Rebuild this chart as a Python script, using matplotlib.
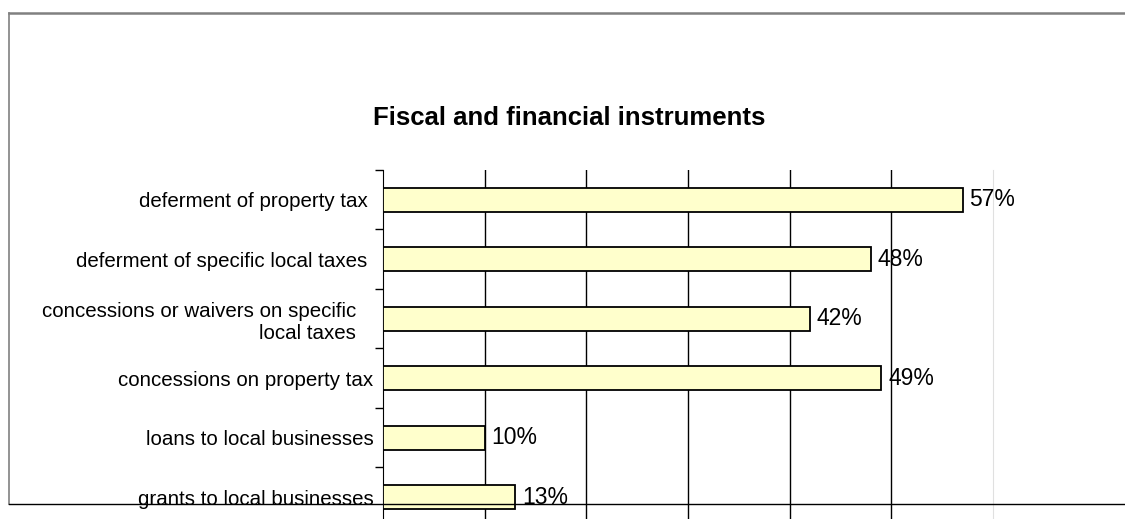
import numpy as np
import matplotlib
matplotlib.use("Agg")
import matplotlib.pyplot as plt
from matplotlib.lines import Line2D

plt.rcParams['font.family'] = ['Liberation Sans', 'DejaVu Sans']

# data, top to bottom
categories = [
    "deferment of property tax ",
    "deferment of specific local taxes ",
    "concessions or waivers on specific   \nlocal taxes   ",
    "concessions on property tax",
    "loans to local businesses",
    "grants to local businesses",
]
values = [0.57, 0.48, 0.42, 0.49, 0.10, 0.13]
value_labels = ["57%", "48%", "42%", "49%", "10%", "13%"]
title = "Fiscal and financial instruments"

W, H = 1125, 519
fig = plt.figure(figsize=(W / 100, H / 100), dpi=100)

# chart area frame (cropped on the right)
fig.add_artist(Line2D([9 / W, 1.0], [1 - 13 / H, 1 - 13 / H], color='#808080', lw=1.8))
fig.add_artist(Line2D([9 / W, 9 / W], [1 - 13 / H, 1 - 504 / H], color='#808080', lw=1.2))
fig.add_artist(Line2D([9 / W, 1.0], [1 - 504 / H, 1 - 504 / H], color='black', lw=1.0, zorder=10))

left, right, top, bottom = 383, 993, 170, 527
ax = fig.add_axes([left / W, 1 - bottom / H, (right - left) / W, (bottom - top) / H])

y = np.arange(len(categories))
ax.barh(y, values, height=0.41, color='#FFFFCC', edgecolor='black', linewidth=1.3, zorder=3)

for yi, v, lab in zip(y, values, value_labels):
    ax.annotate(lab, (v, yi), xytext=(5, 0), textcoords='offset points',
                ha='left', va='center', fontsize=16.5, color='black', zorder=4)

ax.set_xlim(0, 0.6)
ax.set_ylim(len(categories) - 0.5, -0.5)

# x gridlines
ax.set_xticks([0.1, 0.2, 0.3, 0.4, 0.5])
ax.grid(axis='x', color='black', lw=1.0)
ax.tick_params(axis='x', length=0, labelbottom=False)
ax.set_axisbelow(True)

# y ticks between categories, labels at centers
ax.set_yticks(np.arange(-0.5, len(categories), 1.0))
ax.set_yticklabels([])
ax.set_yticks(y, minor=True)
ax.set_yticklabels(categories, minor=True, fontsize=14.8)
ax.tick_params(axis='y', which='major', length=6, width=1, color='black', direction='out')
ax.tick_params(axis='y', which='minor', length=0, pad=7)

ax.spines['top'].set_visible(False)
ax.spines['right'].set_color('#e0e0e0')
ax.spines['left'].set_color('black')
ax.spines['bottom'].set_color('black')

fig.text(569 / W, 1 - 118 / H, title, ha='center', va='center',
         fontsize=18.5, fontweight='bold')

fig.savefig("out.png", dpi=100)
